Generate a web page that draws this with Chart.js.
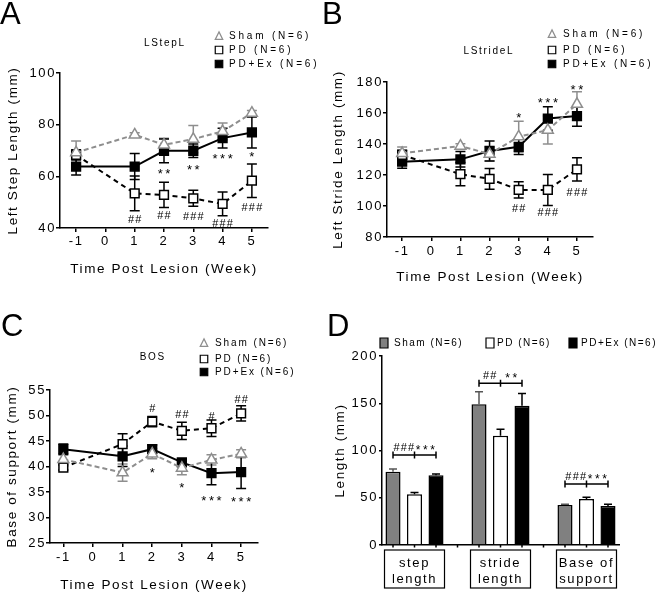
<!DOCTYPE html>
<html>
<head>
<meta charset="utf-8">
<script src="https://cdn.jsdelivr.net/npm/chart.js@4.4.2/dist/chart.umd.min.js"></script>
<style>
  body { margin: 0; background: #fff; width: 660px; height: 592px; overflow: hidden; position: relative; font-family: "Liberation Sans", Arial, sans-serif; }
  canvas { position: absolute; }
  .letter { position: absolute; font-size: 31px; line-height: 1; color: #000; }
</style>
</head>
<body>
<canvas id="chartA" width="330" height="296" style="left:0;top:0"></canvas>
<canvas id="chartB" width="330" height="296" style="left:330px;top:0"></canvas>
<canvas id="chartC" width="330" height="296" style="left:0;top:300px"></canvas>
<canvas id="chartD" width="330" height="296" style="left:330px;top:300px"></canvas>
<div class="letter" style="left:0;top:-2px">A</div>
<div class="letter" style="left:322px;top:-2px">B</div>
<div class="letter" style="left:1px;top:310px">C</div>
<div class="letter" style="left:327px;top:310px">D</div>

<script>
// ---- datos ----
const weeks = [-1, 1, 2, 3, 4, 5];
const weekTicks = [-1, 0, 1, 2, 3, 4, 5];
const groupNames = ['Sham (N=6)', 'PD (N=6)', 'PD+Ex (N=6)'];

// A: LStepL
const stepTicks = [40, 60, 80, 100];
const stepSham = [69.2, 76.1, 72.2, 74.4, 77.4, 84.5];
const stepShamErr = [4.5, 0.8, 2.5, 5.3, 3.2, 1.0];
const stepPD = [68.3, 53.4, 52.8, 51.5, 49.3, 58.3];
const stepPDErr = [2.0, 6.7, 4.9, 3.1, 4.6, 6.5];
const stepEx = [63.8, 63.8, 69.9, 69.9, 74.8, 77.0];
const stepExErr = [3.3, 5.0, 4.6, 2.6, 3.8, 6.0];
const stepStars = ['', '', '**', '**', '***', '*'];
const stepStarsY = [null, null, 61.8, 63.4, 67.7, 68.3];
const stepHash = ['', '##', '##', '###', '###', '###'];
const stepHashY = [null, 43.0, 44.6, 44.4, 41.5, 47.6];

// B: LStrideL
const strideTicks = [80, 100, 120, 140, 160, 180];
const strideSham = [134.0, 138.7, 133.5, 144.7, 149.0, 165.7];
const strideShamErr = [4.0, 1.5, 4.5, 10.0, 9.0, 8.0];
const stridePD = [133.0, 120.5, 117.5, 110.4, 110.4, 123.7];
const stridePDErr = [3.0, 7.5, 6.7, 5.2, 10.0, 7.5];
const strideEx = [128.6, 130.1, 135.5, 138.2, 156.4, 158.0];
const strideExErr = [4.3, 5.0, 6.5, 5.0, 7.6, 6.5];
const strideStars = ['', '', '', '*', '***', '**'];
const strideStarsY = [null, null, null, 158.6, 168.2, 176.8];
const strideHash = ['', '', '', '##', '###', '###'];
const strideHashY = [null, null, null, 98.0, 95.4, 108.7];

// C: BOS
const bosTicks = [25, 30, 35, 40, 45, 50, 55];
const bosSham = [41.4, 38.8, 42.5, 39.7, 41.3, 42.5];
const bosShamErr = [0.8, 1.7, 1.0, 1.3, 1.0, 0.8];
const bosPD = [39.8, 44.4, 48.8, 47.0, 47.5, 50.4];
const bosPDErr = [0.5, 2.0, 1.0, 1.7, 1.6, 1.5];
const bosEx = [43.4, 42.0, 43.4, 40.8, 38.7, 38.9];
const bosExErr = [1.0, 2.0, 0.8, 0.7, 2.3, 3.2];
const bosHash = ['', '', '#', '##', '#', '##'];
const bosHashY = [null, null, 51.2, 50.1, 49.8, 53.0];
const bosStars = ['', '', '*', '*', '***', '***'];
const bosStarsY = [null, null, 39.2, 36.3, 33.8, 33.5];

// D: barras
const dCats = [['step', 'length'], ['stride', 'length'], ['Base of', 'support']];
const dTicks = [0, 50, 100, 150, 200];
const dSham = [77.6, 148.9, 42.3];
const dShamErr = [2.8, 13.3, 0.7];
const dPD = [53.6, 115.7, 48.7];
const dPDErr = [2.0, 6.7, 1.7];
const dEx = [73.7, 147.4, 41.3];
const dExErr = [1.4, 13.0, 1.7];
const dBracketY = [95.2, 171.1, 64.6];
const dLeftMark = ['###', '##', '###'];
const dRightMark = ['***', '**', '***'];

// ---- estilo ----
const FONT = "'Liberation Sans', Arial, sans-serif";
const GRAY = '#8e8e8e';
const BAR_GRAY = '#808080';
Chart.defaults.font.family = FONT;
Chart.defaults.color = '#000';
Chart.defaults.animation = false;

function drawText(ctx, str, x, y, size, ls, align) {
  ctx.save();
  ctx.font = size + 'px ' + FONT;
  ctx.letterSpacing = ls + 'px';
  ctx.textAlign = align || 'center';
  ctx.textBaseline = 'middle';
  ctx.fillStyle = '#000';
  const dx = align === 'left' ? 0 : (align === 'right' ? ls : ls / 2);
  ctx.fillText(str, x + dx, y);
  ctx.restore();
}

function drawMarker(ctx, style, x, y, w, h, fill, stroke) {
  ctx.save();
  ctx.lineWidth = 1.2;
  ctx.fillStyle = fill;
  ctx.strokeStyle = stroke;
  ctx.beginPath();
  if (style === 'triangle') {
    ctx.moveTo(x, y - h * 0.55);
    ctx.lineTo(x + w / 2, y + h * 0.45);
    ctx.lineTo(x - w / 2, y + h * 0.45);
    ctx.closePath();
  } else {
    ctx.rect(x - w / 2, y - h / 2, w, h);
  }
  ctx.fill();
  ctx.stroke();
  ctx.restore();
}

// espaciado de letras en todo el canvas
const spacing = {
  id: 'spacing',
  beforeUpdate(chart) { chart.ctx.letterSpacing = '1.6px'; },
  beforeDraw(chart) { chart.ctx.letterSpacing = '1.6px'; }
};

// barras de error (lineas: detras; barras: encima)
function paintErrors(chart) {
  const ctx = chart.ctx;
  const yScale = chart.scales.y;
  chart.data.datasets.forEach((ds, i) => {
    if (!ds.errors) return;
    const meta = chart.getDatasetMeta(i);
    ctx.save();
    ctx.strokeStyle = ds.errorColor || '#000';
    ctx.lineWidth = 1.5;
    meta.data.forEach((el, j) => {
      const v = meta.controller.getParsed(j).y;
      const e = ds.errors[j];
      const top = yScale.getPixelForValue(v + e);
      const bot = ds.errUpOnly ? yScale.getPixelForValue(v) : yScale.getPixelForValue(v - e);
      const cap = ds.errUpOnly ? 4 : 5;
      ctx.beginPath();
      ctx.moveTo(el.x, top); ctx.lineTo(el.x, bot);
      ctx.moveTo(el.x - cap, top); ctx.lineTo(el.x + cap, top);
      if (!ds.errUpOnly) { ctx.moveTo(el.x - cap, bot); ctx.lineTo(el.x + cap, bot); }
      ctx.stroke();
    });
    ctx.restore();
  });
}
const errorBars = {
  id: 'errorBars',
  beforeDatasetsDraw(chart) { if (chart.config.type === 'line') paintErrors(chart); },
  afterDatasetsDraw(chart) { if (chart.config.type === 'bar') paintErrors(chart); }
};

// titulo, leyenda y marcas de significancia
const panelText = {
  id: 'panelText',
  afterDraw(chart, args, opts) {
    const ctx = chart.ctx;
    if (opts.title) drawText(ctx, opts.title, opts.titleX, opts.titleY, 10, 1.7);
    if (opts.legend) {
      const L = opts.legend;
      chart.data.datasets.forEach((ds, i) => {
        const style = ds.legendStyle || ds.pointStyle;
        const fill = ds.legendFill || ds.pointBackgroundColor;
        const stroke = ds.legendStroke || ds.pointBorderColor;
        drawMarker(ctx, style, L.mx[i], L.my[i], L.w, L.h, fill, stroke);
        drawText(ctx, ds.label, L.tx[i], L.my[i], 10, L.ls, 'left');
      });
    }
    (opts.marks || []).forEach(m => {
      m.labels.forEach((lab, j) => {
        if (!lab) return;
        const x = chart.scales.x.getPixelForValue(weeks[j]);
        const star = lab.indexOf('*') >= 0;
        const y = chart.scales.y.getPixelForValue(m.ys[j]) + (star ? 3 : 0);
        drawText(ctx, lab, x, y, star ? 13 : 11, star ? 2.6 : 1.2);
      });
    });
  }
};

function lineDataset(label, vals, errs, color, style, fill, dash) {
  return {
    label: label,
    data: vals.map((v, i) => ({ x: weeks[i], y: v })),
    errors: errs,
    errorColor: color,
    borderColor: color,
    borderWidth: 2,
    borderDash: dash,
    pointStyle: style,
    pointRadius: style === 'triangle' ? 6.3 : 6.2,
    pointBackgroundColor: fill,
    pointBorderColor: color,
    pointBorderWidth: 1.5,
    tension: 0
  };
}

function makeLine(id, d, L) {
  new Chart(document.getElementById(id), {
    type: 'line',
    data: {
      datasets: [
        lineDataset(groupNames[0], d.sham, d.shamErr, GRAY, 'triangle', '#fff', [5, 3]),
        lineDataset(groupNames[1], d.pd, d.pdErr, '#000', 'rect', '#fff', [5, 4]),
        lineDataset(groupNames[2], d.ex, d.exErr, '#000', 'rect', '#000', [])
      ]
    },
    options: {
      responsive: false,
      layout: { padding: { top: L.top, right: L.right, left: 0, bottom: 0 } },
      plugins: {
        legend: { display: false },
        tooltip: { enabled: false },
        panelText: {
          title: d.title, titleX: L.titleX, titleY: L.titleY,
          legend: { mx: L.mx, my: L.my, tx: L.tx, w: 7.5, h: 7.5, ls: L.ls },
          marks: d.marks
        }
      },
      scales: {
        x: {
          type: 'linear',
          min: L.xmin, max: L.xmax,
          afterBuildTicks: s => { s.ticks = weekTicks.map(v => ({ value: v })); },
          afterFit: s => { s.height = L.xh; },
          grid: { drawOnChartArea: false, tickLength: 4, color: '#000', lineWidth: 1.5 },
          border: { color: '#000', width: 1.5 },
          ticks: { font: { size: 13 }, padding: L.xtp, maxRotation: 0, autoSkip: false },
          title: { display: true, text: 'Time Post Lesion (Week)', font: { size: 13.5 }, padding: { top: 0, bottom: L.xtb } }
        },
        y: {
          min: d.yTicks[0], max: d.yTicks[d.yTicks.length - 1],
          afterBuildTicks: s => { s.ticks = d.yTicks.map(v => ({ value: v })); },
          afterFit: s => { s.width = L.yw; },
          grid: { drawOnChartArea: false, tickLength: 4, color: '#000', lineWidth: 1.5 },
          border: { color: '#000', width: 1.5 },
          ticks: { font: { size: 13 }, padding: 0 },
          title: { display: true, text: d.yTitle, font: { size: 13.5 }, padding: { top: L.ytp, bottom: 0 } }
        }
      }
    },
    plugins: [spacing, errorBars, panelText]
  });
}

makeLine('chartA', {
  title: 'LStepL', yTitle: 'Left Step Length (mm)', yTicks: stepTicks,
  sham: stepSham, shamErr: stepShamErr, pd: stepPD, pdErr: stepPDErr, ex: stepEx, exErr: stepExErr,
  marks: [{ labels: stepStars, ys: stepStarsY }, { labels: stepHash, ys: stepHashY }]
}, {
  top: 73, right: 62, yw: 60, xh: 68, xmin: -1.55, xmax: 5.55, xtp: 2, xtb: 19, ytp: 5,
  titleX: 164, titleY: 43, mx: [219, 219, 219], my: [36, 50, 64], tx: [229, 229, 229], ls: 2.8
});

makeLine('chartB', {
  title: 'LStrideL', yTitle: 'Left Stride Length (mm)', yTicks: strideTicks,
  sham: strideSham, shamErr: strideShamErr, pd: stridePD, pdErr: stridePDErr, ex: strideEx, exErr: strideExErr,
  marks: [{ labels: strideStars, ys: strideStarsY }, { labels: strideHash, ys: strideHashY }]
}, {
  top: 82, right: 67, yw: 57, xh: 59, xmin: -1.52, xmax: 5.55, xtp: 3, xtb: 10.4, ytp: 0,
  titleX: 158, titleY: 51, mx: [222, 222, 222], my: [34, 50, 64], tx: [233, 233, 233], ls: 2.8
});

makeLine('chartC', {
  title: 'BOS', yTitle: 'Base of support (mm)', yTicks: bosTicks,
  sham: bosSham, shamErr: bosShamErr, pd: bosPD, pdErr: bosPDErr, ex: bosEx, exErr: bosExErr,
  marks: [{ labels: bosHash, ys: bosHashY }, { labels: bosStars, ys: bosStarsY }]
}, {
  top: 90, right: 72, yw: 50, xh: 53, xmin: -1.45, xmax: 5.57, xtp: 3, xtb: 3, ytp: 4,
  titleX: 152, titleY: 57, mx: [204, 204, 204], my: [43, 59, 72], tx: [215, 215, 215], ls: 1.9
});

// ---- D: barras agrupadas ----
const bracketPlugin = {
  id: 'brackets',
  afterDatasetsDraw(chart) {
    const ctx = chart.ctx;
    const yScale = chart.scales.y;
    const m0 = chart.getDatasetMeta(0), m1 = chart.getDatasetMeta(1), m2 = chart.getDatasetMeta(2);
    ctx.save();
    ctx.strokeStyle = '#000';
    ctx.lineWidth = 1.5;
    dBracketY.forEach((v, j) => {
      const x0 = m0.data[j].x, x1 = m1.data[j].x, x2 = m2.data[j].x;
      const y = yScale.getPixelForValue(v);
      ctx.beginPath();
      ctx.moveTo(x0, y); ctx.lineTo(x2, y);
      [x0, x1, x2].forEach(x => { ctx.moveTo(x, y - 3.5); ctx.lineTo(x, y + 3.5); });
      ctx.stroke();
      drawText(ctx, dLeftMark[j], (x0 + x1) / 2, y - 7, 11, 1.2);
      drawText(ctx, dRightMark[j], (x1 + x2) / 2, y - 4.5, 12, 2.6);
    });
    // marcas pequenas del eje x
    const xScale = chart.scales.x;
    const by = chart.chartArea.bottom;
    ctx.beginPath();
    [m0, m1, m2].forEach(m => m.data.forEach(el => { ctx.moveTo(el.x, by); ctx.lineTo(el.x, by + 2.5); }));
    [0.5, 1.5].forEach(v => { const x = xScale.getPixelForValue(v); ctx.moveTo(x, by); ctx.lineTo(x, by + 2.5); });
    ctx.stroke();
    // cajas de las categorias
    ctx.lineWidth = 1.2;
    xScale.ticks.forEach(t => {
      const x = xScale.getPixelForValue(t.value);
      ctx.strokeRect(x - 30, by + 5, 60, 38);
    });
    ctx.restore();
  }
};

function barDataset(label, vals, errs, fill) {
  return {
    label: label,
    data: vals.map((v, i) => ({ x: i, y: v })),
    errors: errs,
    errUpOnly: true,
    errorColor: fill === BAR_GRAY ? '#555' : '#000',
    backgroundColor: fill,
    borderColor: '#000',
    borderWidth: 1.5,
    legendStyle: 'rect',
    legendFill: fill,
    legendStroke: '#000',
    categoryPercentage: 0.75,
    barPercentage: 0.7
  };
}

new Chart(document.getElementById('chartD'), {
  type: 'bar',
  data: {
    datasets: [
      barDataset(groupNames[0], dSham, dShamErr, BAR_GRAY),
      barDataset(groupNames[1], dPD, dPDErr, '#fff'),
      barDataset(groupNames[2], dEx, dExErr, '#000')
    ]
  },
  options: {
    responsive: false,
    layout: { padding: { top: 56, right: 41, left: 0, bottom: 0 } },
    plugins: {
      legend: { display: false },
      tooltip: { enabled: false },
      panelText: {
        legend: { mx: [54, 160, 243], my: [43, 43, 43], tx: [64, 167, 251], w: 8, h: 10, ls: 1.5 }
      }
    },
    scales: {
      x: {
        type: 'linear',
        min: -0.378, max: 2.378,
        offset: false,
        afterBuildTicks: s => { s.ticks = dCats.map((c, i) => ({ value: i })); },
        afterFit: s => { s.height = 51; },
        grid: { drawOnChartArea: false, drawTicks: false, color: '#000' },
        border: { color: '#000', width: 1.5 },
        ticks: {
          callback: v => dCats[v],
          font: { size: 13, lineHeight: 1.3 },
          padding: 9.5, maxRotation: 0, autoSkip: false
        }
      },
      y: {
        min: 0, max: 200,
        afterBuildTicks: s => { s.ticks = dTicks.map(v => ({ value: v })); },
        afterFit: s => { s.width = 52; },
        grid: { drawOnChartArea: false, tickLength: 3, color: '#000', lineWidth: 1.5 },
        border: { color: '#000', width: 1.5 },
        ticks: { font: { size: 13 }, padding: 1 },
        title: { display: true, text: 'Length (mm)', font: { size: 13.5 }, padding: { top: 2, bottom: 0 } }
      }
    }
  },
  plugins: [spacing, errorBars, bracketPlugin, panelText]
});
</script>
</body>
</html>
